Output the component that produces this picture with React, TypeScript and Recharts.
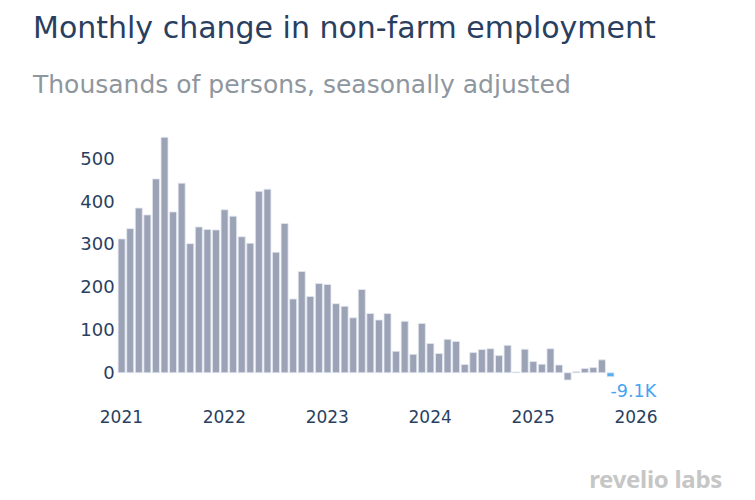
import React from "react";
import { BarChart, Bar, XAxis, YAxis, Cell, LabelList } from "recharts";

const months: number[] = Array.from({ length: 58 }, (_, i) => i);
const values: number[] = [
  312, 336, 384, 368, 452, 549, 375, 442, 301, 340, 334, 333,
  380, 365, 317, 302, 423, 428, 281, 348, 172, 236, 178, 208,
  206, 161, 155, 128, 194, 138, 123, 138, 50, 120, 43, 115,
  68, 45, 78, 73, 19, 47, 54, 56, 40, 64, 2, 55,
  26, 20, 56, 18, -17, 3, 10, 12, 30, -9.1,
];
const xTicks: number[] = [0, 12, 24, 36, 48, 60];
const xTickLabels: string[] = ["2021", "2022", "2023", "2024", "2025", "2026"];
const yTicks: number[] = [0, 100, 200, 300, 400, 500];
const lastLabel = "-9.1K";

const data = months.map((m, i) => ({ m, v: values[i] }));

const FONT = "'DejaVu Sans', Verdana, sans-serif";
const BAR = "#9ca3b6";
const HIGHLIGHT = "#5aaef0";
const TEXT = "#2a3f5f";

const LastLabel = (props: any) => {
  const { x, y, width, height, index } = props;
  if (index !== values.length - 1) return null;
  const bottom = Math.max(y, y + height);
  return (
    <text
      x={x + width / 2}
      y={bottom + 20}
      fill="#45a4f2"
      fontSize={17.5}
      fontFamily={FONT}
      textAnchor="start"
    >
      {lastLabel}
    </text>
  );
};

export default function App() {
  return (
    <div
      style={{
        position: "absolute",
        left: 0,
        top: 0,
        width: 755,
        height: 500,
        background: "#fff",
        fontFamily: FONT,
      }}
    >
      <div
        style={{
          position: "absolute",
          left: 33,
          top: 10,
          fontSize: 30,
          lineHeight: "normal",
          color: TEXT,
          whiteSpace: "nowrap",
        }}
      >
        Monthly change in non-farm employment
      </div>
      <div
        style={{
          position: "absolute",
          left: 33,
          top: 70,
          fontSize: 25,
          lineHeight: "normal",
          color: "#8e969e",
          whiteSpace: "nowrap",
        }}
      >
        Thousands of persons, seasonally adjusted
      </div>
      <BarChart
        width={755}
        height={500}
        data={data}
        margin={{ top: 124, right: 110.4, bottom: 74.4, left: 56.7 }}
      >
        <XAxis
          dataKey="m"
          type="number"
          domain={[-0.55, 61]}
          allowDataOverflow
          ticks={xTicks}
          tickFormatter={(v: number) => xTickLabels[xTicks.indexOf(v)] ?? ""}
          axisLine={false}
          tickLine={false}
          tickSize={0}
          tickMargin={25}
          height={40}
          tick={{ fill: TEXT, fontSize: 17, fontFamily: FONT }}
          interval={0}
        />
        <YAxis
          type="number"
          domain={[-30, 580]}
          allowDataOverflow
          ticks={yTicks}
          axisLine={false}
          tickLine={false}
          tickSize={0}
          tickMargin={2}
          width={60}
          tick={{ fill: TEXT, fontSize: 18, fontFamily: FONT }}
          interval={0}
        />
        <Bar
          dataKey="v"
          barSize={7}
          stroke="#e3e8f0"
          strokeWidth={0.8}
          isAnimationActive={false}
        >
          {data.map((d, i) => (
            <Cell key={i} fill={i === data.length - 1 ? HIGHLIGHT : BAR} />
          ))}
          <LabelList dataKey="v" content={LastLabel} />
        </Bar>
      </BarChart>
      <div
        style={{
          position: "absolute",
          right: 33,
          top: 462,
          fontSize: 24,
          lineHeight: "normal",
          fontWeight: "bold",
          color: "#c6c6c6",
          fontFamily: "'Noto Sans', sans-serif",
          whiteSpace: "nowrap",
          letterSpacing: -0.3,
        }}
      >
        revelio labs
      </div>
    </div>
  );
}
